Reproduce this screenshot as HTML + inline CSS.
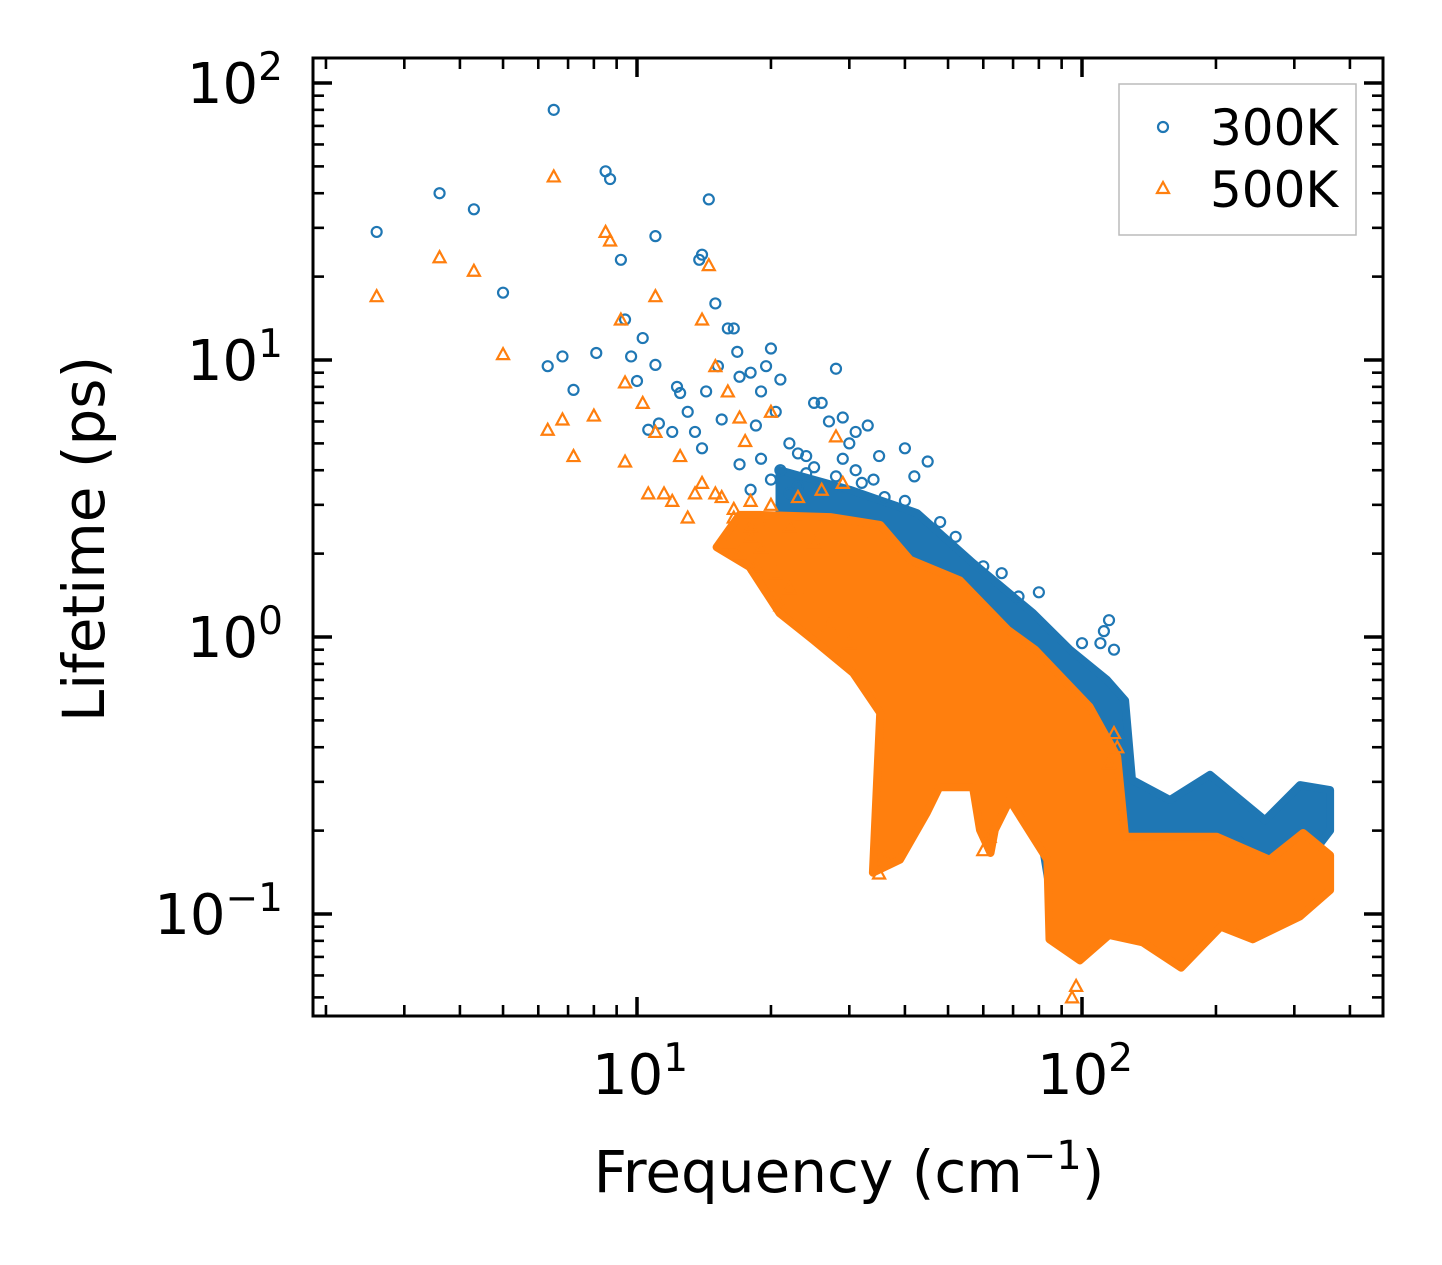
<!DOCTYPE html>
<html><head><meta charset="utf-8"><style>
html,body{margin:0;padding:0;background:#fff;}
svg{display:block;font-family:"DejaVu Sans","Liberation Sans",sans-serif;}
</style></head><body>
<svg id="chart" width="1442" height="1265" viewBox="0 0 1442 1265" xmlns="http://www.w3.org/2000/svg">
<rect width="1442" height="1265" fill="#fff"/>
<g id="bands"></g><g id="marks"></g><g id="axes"></g>
<text transform="translate(104,539) rotate(-90)" text-anchor="middle" font-size="58">Lifetime (ps)</text>
<text x="849" y="1192" text-anchor="middle" font-size="58">Frequency (cm<tspan dy="-23" font-size="40">−1</tspan><tspan dy="23">)</tspan></text>
<g>
<rect x="1119" y="84" width="237" height="151" fill="#fff" stroke="#bbb" stroke-width="1.5"/>
<circle cx="1163" cy="127" r="5" fill="none" stroke="#1f77b4" stroke-width="2.2"/>
<text x="1210" y="145" font-size="50">300K</text>
<path d="M1163,182 L1169,193 L1157,193 Z" fill="none" stroke="#ff7f0e" stroke-width="2.2"/>
<text x="1210" y="207" font-size="50">500K</text>
</g>
</svg>
<script>
// ---- data ----
const blueFreq=[2.6,3.6,4.3,5,6.5,8.5,8.7,9.2,11,13.8,14,14.5,6.3,6.8,7.2,8.1,9.4,9.7,10,10.3,10.6,11,11.2,12,12.3,12.5,13,13.5,14,14.3,15,15.2,15.5,16,16.5,16.8,17,18,18.5,19,19.5,20,20.5,21,22,23,24,25,26,27,28,29,30,31,33,35,40,42,45,110,112,115,118,100,36,37,38,39,87,90,17,19,21,23,25,28,32,36,40,48,52,60,66,72,80,18,20,22,24,26,29,31,34];
const blueLife=[29,40,35,17.5,80,48,45,23,28,23,24,38,9.5,10.3,7.8,10.6,14,10.3,8.4,12,5.6,9.6,5.9,5.5,8,7.6,6.5,5.5,4.8,7.7,16,9.5,6.1,13,13,10.7,8.7,9,5.8,7.7,9.5,11,6.5,8.5,5,3.5,4.5,7,7,6,9.3,6.2,5,5.5,5.8,4.5,4.8,3.8,4.3,0.95,1.05,1.15,0.9,0.95,0.25,0.27,0.3,0.35,0.13,0.15,4.2,4.4,4.0,4.6,4.1,3.8,3.6,3.2,3.1,2.6,2.3,1.8,1.7,1.4,1.45,3.4,3.7,3.3,3.9,3.5,4.4,4.0,3.7];
const orangeFreq=[2.6,3.6,4.3,5,6.3,6.5,6.8,7.2,8,8.5,8.7,9.2,9.4,9.4,10.3,10.6,11,11,11.5,12,12.5,13,13.5,14,14.5,15,15.5,16,16.5,17,17.5,18,18.5,19,20,20.5,21,22,25,26,28,30,33,35,36,95,97,60,62,14,15,16,17,18,19,22,24,27,30,120,118,115,16.5,18,20,23,26,29];
const orangeLife=[17,23.5,21,10.5,5.6,46,6.1,4.5,6.3,29,27,14,8.3,4.3,7,3.3,17,5.5,3.3,3.1,4.5,2.7,3.3,14,22,9.5,3.2,7.7,2.7,6.2,5.1,2.5,1.8,2.1,6.5,1.7,1.3,2.5,2.2,1.0,5.3,0.95,1.1,0.14,0.16,0.05,0.055,0.17,0.19,3.6,3.3,2.2,2.0,2.3,2.6,1.5,1.4,1.1,1.0,0.4,0.45,0.35,2.9,3.1,3.0,3.2,3.4,3.6];
const blueBandFreq=[20.9,30.1,42.6,56.9,77.6,94,113.8,125,129.5,157.7,194,257.8,309,361,361,309,271,226,168.6,135,104,84.7,80.5,65.5,43.2,30.1,20.9];
const blueBandLife=[4.0,3.4,2.8,1.85,1.22,0.9,0.7,0.59,0.305,0.258,0.318,0.218,0.292,0.28,0.2,0.144,0.138,0.185,0.133,0.17,0.144,0.122,0.2,0.59,1.15,1.9,2.64];
const orangeBandFreq=[17.0,18.9,27.2,35.2,41.1,53.2,68.2,78.5,104,120,125,201,264,314,361,361,309,242,205,167,137,115,98.9,84.5,83.6,68.8,63.7,62.3,59.0,56.9,47.8,44.8,39.0,33.9,35.2,30.6,24.9,20.9,17.9,15.1];
const orangeBandLife=[2.76,2.76,2.71,2.54,1.9,1.6,1.06,0.9,0.56,0.37,0.19,0.19,0.157,0.196,0.163,0.122,0.098,0.081,0.09,0.064,0.079,0.084,0.068,0.081,0.157,0.258,0.201,0.166,0.201,0.287,0.287,0.232,0.157,0.141,0.532,0.742,0.975,1.22,1.79,2.11];
const xTickVals=[10,100];
const xTickExp=["1","2"];
const yTickVals=[100,10,1,0.1];
const yTickExp=["2","1","0","−1"];
// ---- scales ----
const L=313,R=1383,T=58,B=1016;
const xs=f=>637+445*(Math.log10(f)-1);
const ys=v=>637-277*Math.log10(v);
const NS="http://www.w3.org/2000/svg";
function mk(tag,parent){const e=document.createElementNS(NS,tag);parent.appendChild(e);return e;}
const bands=document.getElementById('bands'),marks=document.getElementById('marks'),axes=document.getElementById('axes');
function band(fr,lf,col,name){
  const d='M'+fr.map((f,i)=>xs(f).toFixed(1)+','+ys(lf[i]).toFixed(1)).join(' L')+' Z';
  const p=mk('path',bands);
  
  
  p.setAttribute('d',d);p.setAttribute('fill',col);p.setAttribute('stroke',col);p.setAttribute('stroke-width','8');p.setAttribute('stroke-linejoin','round');
  return p;
}
function circ(f,v,parent){const c=mk('circle',parent);
  
  
  c.setAttribute('cx',xs(f));c.setAttribute('cy',ys(v));c.setAttribute('r',5);c.setAttribute('fill','none');c.setAttribute('stroke','#1f77b4');c.setAttribute('stroke-width',2.2);}
function tri(f,v,parent){const x=xs(f),y=ys(v);const p=mk('path',parent);
  
  
  p.setAttribute('d',`M${x},${y-6} L${x+6},${y+5} L${x-6},${y+5} Z`);p.setAttribute('fill','none');p.setAttribute('stroke','#ff7f0e');p.setAttribute('stroke-width',2.2);}
band(blueBandFreq,blueBandLife,'#1f77b4','band-300k');
blueFreq.forEach((f,i)=>circ(f,blueLife[i],bands));
band(orangeBandFreq,orangeBandLife,'#ff7f0e','band-500k');
orangeFreq.forEach((f,i)=>tri(f,orangeLife[i],marks));
// axes
const fr=mk('rect',axes);


fr.setAttribute('x',L);fr.setAttribute('y',T);fr.setAttribute('width',R-L);fr.setAttribute('height',B-T);fr.setAttribute('fill','none');fr.setAttribute('stroke','#000');fr.setAttribute('stroke-width',3);
function line(x1,y1,x2,y2,w){const l=mk('line',axes);l.setAttribute('x1',x1);l.setAttribute('y1',y1);l.setAttribute('x2',x2);l.setAttribute('y2',y2);l.setAttribute('stroke','#000');l.setAttribute('stroke-width',w);}
for(let e=0;e<3;e++)for(let m=1;m<10;m++){const v=m*Math.pow(10,e);const x=xs(v);if(x<L+2||x>R-2)continue;const len=m===1?19:11,w=m===1?3.5:2.6;line(x,B,x,B-len,w);line(x,T,x,T+len,w);}
for(let e=-2;e<3;e++)for(let m=1;m<10;m++){const v=m*Math.pow(10,e);const y=ys(v);if(y<T+2||y>B-2)continue;const len=m===1?19:11,w=m===1?3.5:2.6;line(L,y,L+len,y,w);line(R,y,R-len,y,w);}
xTickVals.forEach((v,i)=>{const t=mk('text',axes);
  
  
  t.setAttribute('x',xs(v)+3);t.setAttribute('y',1094);t.setAttribute('text-anchor','middle');t.setAttribute('font-size','56');
  t.innerHTML=`10<tspan dy="-23" font-size="39">${xTickExp[i]}</tspan>`;});
yTickVals.forEach((v,i)=>{const t=mk('text',axes);
  
  
  t.setAttribute('x',283);t.setAttribute('y',ys(v)+20);t.setAttribute('text-anchor','end');t.setAttribute('font-size','56');
  t.innerHTML=`10<tspan dy="-23" font-size="39">${yTickExp[i]}</tspan>`;});
</script>
</body></html>
